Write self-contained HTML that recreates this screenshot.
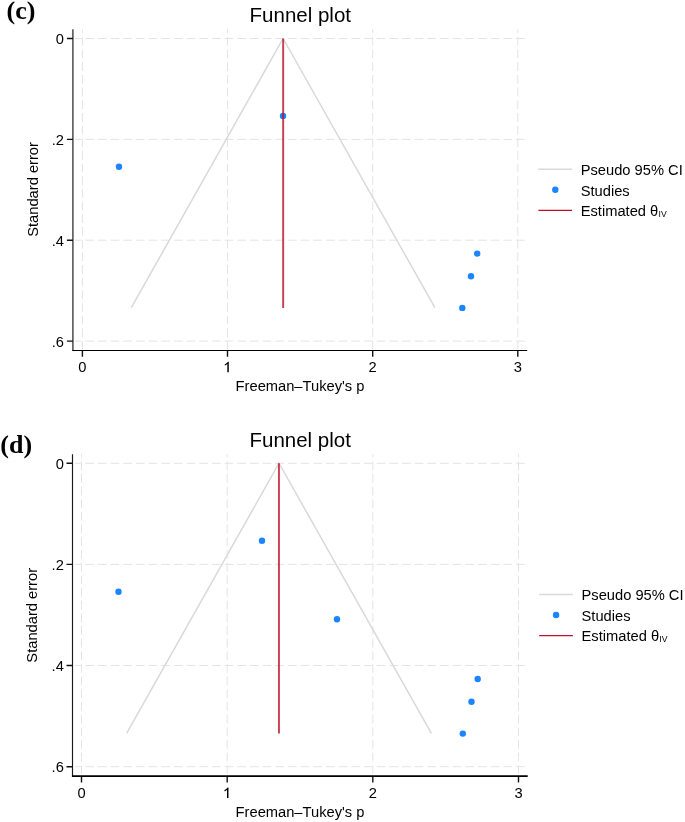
<!DOCTYPE html>
<html>
<head>
<meta charset="utf-8">
<style>
html,body{margin:0;padding:0;background:#fff;}
svg{display:block;will-change:transform;}
text{font-family:"Liberation Sans",sans-serif;fill:#000;}
.lab{font-family:"Liberation Serif",serif;font-weight:bold;}
.grid{stroke:#e4e4e4;stroke-width:1;fill:none;stroke-dasharray:8.7 3.97;}
.tk{stroke:#111;stroke-width:1.4;fill:none;}
.fun{stroke:#d9d9d9;stroke-width:1.5;fill:none;}
.est{stroke:#be102a;stroke-opacity:0.8;stroke-width:1.95;fill:none;}
.legr{stroke:#be102a;stroke-width:1.4;fill:none;}
.dot{fill:#1a85ff;}
.tl{font-size:14.7px;}
</style>
</head>
<body>
<svg width="685" height="822" viewBox="0 0 685 822">
<text class="lab" x="6.6" y="19.3" font-size="26">(c)</text>
<text x="300.3" y="21.9" font-size="20.5" text-anchor="middle">Funnel plot</text>
<path class="grid" stroke-dashoffset="2.4" d="M75 38.5H526M75 139.4H526M75 240.2H526M75 341.1H526"/>
<path class="grid" stroke-dashoffset="4.9" d="M82.4 29.2V349.6M227.5 29.2V349.6M372.7 29.2V349.6M517.8 29.2V349.6"/>
<path class="fun" d="M131.3 307.7L283.1 38.5L434.9 307.7"/>
<circle class="dot" cx="283" cy="115.9" r="3.2"/>
<circle class="dot" cx="119" cy="166.7" r="3.2"/>
<circle class="dot" cx="477.2" cy="253.6" r="3.2"/>
<circle class="dot" cx="471" cy="276.3" r="3.2"/>
<circle class="dot" cx="462.3" cy="307.9" r="3.2"/>
<path class="est" d="M283.15 38.5V307.9"/>
<path d="M72.93 29.2V351.1" stroke="#000" stroke-width="1.06" fill="none"/>
<path d="M72.38 350.5H527.2" stroke="#000" stroke-width="1.2" fill="none"/>
<path class="tk" d="M66.93 38.5H72.93M66.93 139.4H72.93M66.93 240.2H72.93M66.93 341.1H72.93M82.4 350.5V356.8M227.5 350.5V356.8M372.7 350.5V356.8M517.8 350.5V356.8"/>
<g class="tl" text-anchor="end">
<text x="64" y="44.0">0</text>
<text x="64" y="144.9">.2</text>
<text x="64" y="245.7">.4</text>
<text x="64" y="346.6">.6</text>
</g><g class="tl" text-anchor="middle">
<text x="82.4" y="372.2">0</text>
<text x="372.7" y="372.2">2</text>
<text x="517.8" y="372.2">3</text>
</g>
<path transform="translate(223.21 372.2) scale(0.007178 -0.007178)" d="M778 0L573 0L573 1137C540 1106 483 1064 413 1023C342 982 279 951 222 930L222 1104C322 1151 409 1208 484 1274C559 1341 612 1405 643 1466L778 1466Z"/>
<text class="tl" x="300.0" y="391.3" text-anchor="middle">Freeman–Tukey's p</text>
<text class="tl" transform="translate(37.55 189.45) rotate(-90)" text-anchor="middle">Standard error</text>
<path d="M538.2 169.2H572.1" stroke="#d9d9d9" stroke-width="1.5"/>
<circle class="dot" cx="555.3" cy="189.8" r="3.2"/>
<path d="M538.4 210.4H572.1" class="legr"/>
<text class="tl" x="580.7" y="174.8">Pseudo 95% CI</text>
<text class="tl" x="580.7" y="195.6">Studies</text>
<text class="tl" x="580.7" y="216.0">Estimated θ<tspan font-size="8.6" dx="0.3" dy="0.8">IV</tspan></text>
<text class="lab" x="0.3" y="452.7" font-size="26">(d)</text>
<text x="300.2" y="446.6" font-size="20.5" text-anchor="middle">Funnel plot</text>
<path class="grid" stroke-dashoffset="2.4" d="M75 463.3H526.5M75 564.4H526.5M75 665.5H526.5M75 766.7H526.5"/>
<path class="grid" stroke-dashoffset="5.5" d="M81.5 454.2V775M227.17 454.2V775M372.83 454.2V775M518.5 454.2V775"/>
<path class="fun" d="M126.6 733.4L279.0 463.2L431.4 733.4"/>
<circle class="dot" cx="262.0" cy="540.8" r="3.2"/>
<circle class="dot" cx="118.5" cy="591.8" r="3.2"/>
<circle class="dot" cx="337.0" cy="619.3" r="3.2"/>
<circle class="dot" cx="477.7" cy="679.0" r="3.2"/>
<circle class="dot" cx="471.5" cy="701.7" r="3.2"/>
<circle class="dot" cx="462.8" cy="733.6" r="3.2"/>
<path class="est" d="M278.95 463.2V733.5"/>
<path d="M72.5 454.2V776.7" stroke="#1a1a1a" stroke-width="1.15" fill="none"/>
<path d="M71.95 776.1H527.7" stroke="#000" stroke-width="1.6" fill="none"/>
<path class="tk" d="M66.5 463.3H72.5M66.5 564.4H72.5M66.5 665.5H72.5M66.5 766.7H72.5M81.5 776.1V782.4M227.17 776.1V782.4M372.83 776.1V782.4M518.5 776.1V782.4"/>
<g class="tl" text-anchor="end">
<text x="63.8" y="468.8">0</text>
<text x="63.8" y="569.9">.2</text>
<text x="63.8" y="671.0">.4</text>
<text x="63.8" y="772.2">.6</text>
</g><g class="tl" text-anchor="middle">
<text x="81.5" y="798.0">0</text>
<text x="372.83" y="798.0">2</text>
<text x="518.5" y="798.0">3</text>
</g>
<path transform="translate(222.88 798.0) scale(0.007178 -0.007178)" d="M778 0L573 0L573 1137C540 1106 483 1064 413 1023C342 982 279 951 222 930L222 1104C322 1151 409 1208 484 1274C559 1341 612 1405 643 1466L778 1466Z"/>
<text class="tl" x="300.0" y="816.9" text-anchor="middle">Freeman–Tukey's p</text>
<text class="tl" transform="translate(36.9 615.3) rotate(-90)" text-anchor="middle">Standard error</text>
<path d="M539.0 594.4H572.9" stroke="#d9d9d9" stroke-width="1.5"/>
<circle class="dot" cx="556.1" cy="615.0" r="3.2"/>
<path d="M539.2 635.6H572.9" class="legr"/>
<text class="tl" x="581.5" y="600.0">Pseudo 95% CI</text>
<text class="tl" x="581.5" y="620.8">Studies</text>
<text class="tl" x="581.5" y="641.2">Estimated θ<tspan font-size="8.6" dx="0.3" dy="0.8">IV</tspan></text>
</svg>
</body>
</html>
